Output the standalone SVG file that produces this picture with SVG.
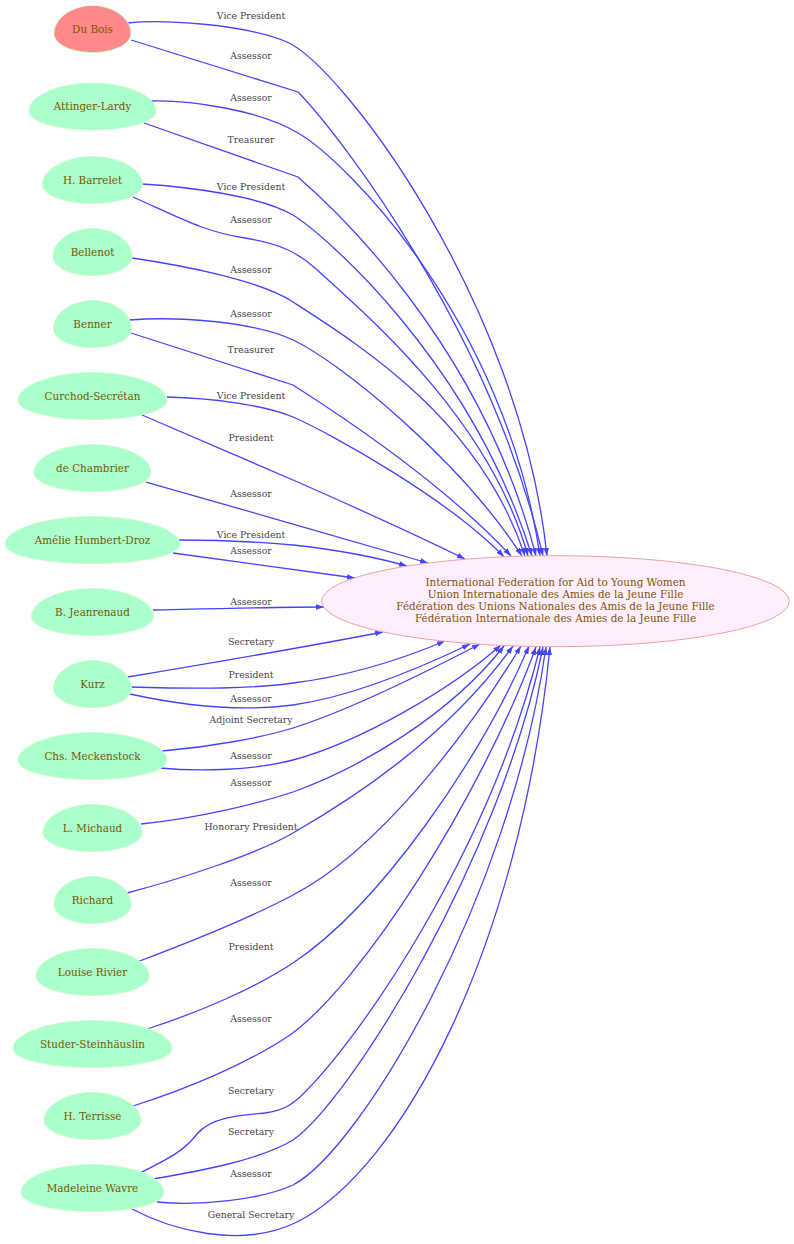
<svg xmlns="http://www.w3.org/2000/svg" xmlns:xlink="http://www.w3.org/1999/xlink" width="794" height="1244" viewBox="0 0 794 1244">
<defs>
<style>
.egg{fill:#aaffcc;stroke:#ccffcc;stroke-width:1}
.egg.red{fill:#ff8888}
.nt{font-family:"DejaVu Serif","Liberation Serif",serif;font-size:10.4px;fill:#805500;text-anchor:middle}
.e path{fill:none;stroke:#4444ff;stroke-width:1.3;marker-end:url(#ah)}
.e text{font-family:"DejaVu Serif","Liberation Serif",serif;font-size:9.3px;fill:#444444;text-anchor:middle}
.ct{font-family:"DejaVu Serif","Liberation Serif",serif;font-size:10.4px;fill:#805500;text-anchor:middle}
</style>
<path id="eggshape" vector-effect="non-scaling-stroke" d="M0,-1 C0.52,-1 1,-0.47 1,0.19 C1,0.64 0.56,1 0,1 C-0.56,1 -1,0.64 -1,0.19 C-1,-0.47 -0.52,-1 0,-1Z"/>
<marker id="ah" markerUnits="userSpaceOnUse" markerWidth="9" markerHeight="6" refX="8" refY="2.8" orient="auto"><path d="M0,0 L8,2.8 L0,5.6 Z" fill="#4444ff"/></marker>
</defs>
<rect width="794" height="1244" fill="#ffffff"/>
<g id="edges">
<g class="e"><path d="M128,23 C160,19 245,24 287,42 C340,65 520,300 547,556"/><text x="251" y="19">Vice President</text></g>
<g class="e"><path d="M131,40 L298,92 C340,135 490,330 543,556"/><text x="251" y="59">Assessor</text></g>
<g class="e"><path d="M151,101 C190,100 260,110 298,133 C345,160 505,320 540,556"/><text x="251" y="101">Assessor</text></g>
<g class="e"><path d="M144,123 L298,177 C330,205 480,340 536,556"/><text x="251" y="142.5">Treasurer</text></g>
<g class="e"><path d="M142,184 C190,187 260,196 293,215 C325,235 470,360 532,556"/><text x="251" y="190">Vice President</text></g>
<g class="e"><path d="M133,197 C180,218 205,232 245,238 C280,244 297,252 315,268 C370,318 490,420 528,556"/><text x="251" y="223">Assessor</text></g>
<g class="e"><path d="M132,258 C180,265 260,280 293,302 C360,345 480,420 525,556"/><text x="251" y="272.5">Assessor</text></g>
<g class="e"><path d="M129,320 C180,316 255,322 293,340 C340,362 460,460 522,556"/><text x="251" y="316.5">Assessor</text></g>
<g class="e"><path d="M131,333 L293,385 C340,415 440,480 511,556"/><text x="251" y="352.5">Treasurer</text></g>
<g class="e"><path d="M167,397 C210,398 265,405 293,417 C330,433 450,500 504,557"/><text x="251" y="398.5">Vice President</text></g>
<g class="e"><path d="M142,415 L293,480 C350,505 420,537 465,559"/><text x="251" y="440.5">President</text></g>
<g class="e"><path d="M146,482 L293,524 L428,563"/><text x="251" y="496.5">Assessor</text></g>
<g class="e"><path d="M178,540 C220,540 260,542 293,545 C330,549 375,557 407,566"/><text x="251" y="538">Vice President</text></g>
<g class="e"><path d="M173,553 L355,578"/><text x="251" y="554">Assessor</text></g>
<g class="e"><path d="M153,610 C200,609 280,607 324,607"/><text x="251" y="605">Assessor</text></g>
<g class="e"><path d="M128,677 C200,665 300,648 383,632"/><text x="251" y="645">Secretary</text></g>
<g class="e"><path d="M130,687 C200,689 250,689 293,683 C350,676 400,660 445,641"/><text x="251" y="678">President</text></g>
<g class="e"><path d="M130,694 C180,705 240,712 293,705 C350,697 420,668 470,644"/><text x="251" y="702">Assessor</text></g>
<g class="e"><path d="M162,751 C210,747 260,738 293,728 C350,710 430,670 480,644"/><text x="251" y="723">Adjoint Secretary</text></g>
<g class="e"><path d="M160,768 C200,772 255,770 293,760 C360,742 450,690 501,645"/><text x="251" y="759">Assessor</text></g>
<g class="e"><path d="M141,824 C200,818 260,803 293,792 C360,768 450,715 504,646"/><text x="251" y="786">Assessor</text></g>
<g class="e"><path d="M127,893 C180,879 255,855 293,833 C350,800 445,740 513,646"/><text x="251" y="830">Honorary President</text></g>
<g class="e"><path d="M137,962 C190,942 250,918 293,895 C380,850 470,730 521,646"/><text x="251" y="886">Assessor</text></g>
<g class="e"><path d="M147,1029 C200,1012 255,988 293,963 C380,905 480,760 529,646"/><text x="251" y="950">President</text></g>
<g class="e"><path d="M133,1106 C190,1088 250,1062 290,1035 C360,985 480,800 536,647"/><text x="251" y="1022">Assessor</text></g>
<g class="e"><path d="M140,1173 C170,1158 185,1150 197,1134 C212,1116 245,1115 265,1113 C285,1110 292,1104 300,1097 C360,1040 490,850 540,647"/><text x="251" y="1094">Secretary</text></g>
<g class="e"><path d="M153,1179 C200,1171 260,1160 293,1140 C350,1100 500,860 543,647"/><text x="251" y="1135">Secretary</text></g>
<g class="e"><path d="M157,1202 C200,1206 260,1200 293,1185 C360,1150 510,900 546,647"/><text x="251" y="1177">Assessor</text></g>
<g class="e"><path d="M132,1209 C170,1229 240,1250 297,1222 C400,1170 520,950 550,647"/><text x="251" y="1218">General Secretary</text></g>
</g>
<g id="center"><ellipse cx="555.5" cy="601.2" rx="233.8" ry="45.5" fill="#ffeeff" stroke="#f0a0a0" stroke-width="1"/>
<text class="ct" x="555.5" y="586">International Federation for Aid to Young Women</text>
<text class="ct" x="555.5" y="598">Union Internationale des Amies de la Jeune Fille</text>
<text class="ct" x="555.5" y="610">Fédération des Unions Nationales des Amis de la Jeune Fille</text>
<text class="ct" x="555.5" y="622">Fédération Internationale des Amies de la Jeune Fille</text></g>
<g id="n1"><use xlink:href="#eggshape" class="egg red" transform="translate(92.5,29) scale(38.5,23.5)"/><text class="nt" x="92.5" y="32.5">Du Bois</text></g>
<g id="n2"><use xlink:href="#eggshape" class="egg" transform="translate(92.5,106.5) scale(63.5,23.5)"/><text class="nt" x="92.5" y="110">Attinger-Lardy</text></g>
<g id="n3"><use xlink:href="#eggshape" class="egg" transform="translate(92.5,180) scale(50,23.5)"/><text class="nt" x="92.5" y="183.5">H. Barrelet</text></g>
<g id="n4"><use xlink:href="#eggshape" class="egg" transform="translate(92.5,252) scale(39.5,23.5)"/><text class="nt" x="92.5" y="255.5">Bellenot</text></g>
<g id="n5"><use xlink:href="#eggshape" class="egg" transform="translate(92.5,324) scale(39,23.5)"/><text class="nt" x="92.5" y="327.5">Benner</text></g>
<g id="n6"><use xlink:href="#eggshape" class="egg" transform="translate(92.5,396) scale(74.5,23.5)"/><text class="nt" x="92.5" y="399.5">Curchod-Secrétan</text></g>
<g id="n7"><use xlink:href="#eggshape" class="egg" transform="translate(92.5,468) scale(58.5,23.5)"/><text class="nt" x="92.5" y="471.5">de Chambrier</text></g>
<g id="n8"><use xlink:href="#eggshape" class="egg" transform="translate(92.5,540) scale(87.5,23.5)"/><text class="nt" x="92.5" y="543.5">Amélie Humbert-Droz</text></g>
<g id="n9"><use xlink:href="#eggshape" class="egg" transform="translate(92.5,612) scale(61,23.5)"/><text class="nt" x="92.5" y="615.5">B. Jeanrenaud</text></g>
<g id="n10"><use xlink:href="#eggshape" class="egg" transform="translate(92.5,684) scale(39,23.5)"/><text class="nt" x="92.5" y="687.5">Kurz</text></g>
<g id="n11"><use xlink:href="#eggshape" class="egg" transform="translate(92.5,756) scale(74.5,23.5)"/><text class="nt" x="92.5" y="759.5">Chs. Meckenstock</text></g>
<g id="n12"><use xlink:href="#eggshape" class="egg" transform="translate(92.5,828) scale(49.5,23.5)"/><text class="nt" x="92.5" y="831.5">L. Michaud</text></g>
<g id="n13"><use xlink:href="#eggshape" class="egg" transform="translate(92.5,900) scale(38.5,23.5)"/><text class="nt" x="92.5" y="903.5">Richard</text></g>
<g id="n14"><use xlink:href="#eggshape" class="egg" transform="translate(92.5,972) scale(56.5,23.5)"/><text class="nt" x="92.5" y="975.5">Louise Rivier</text></g>
<g id="n15"><use xlink:href="#eggshape" class="egg" transform="translate(92.5,1044) scale(79.5,23.5)"/><text class="nt" x="92.5" y="1047.5">Studer-Steinhäuslin</text></g>
<g id="n16"><use xlink:href="#eggshape" class="egg" transform="translate(92.5,1116) scale(48.5,23.5)"/><text class="nt" x="92.5" y="1119.5">H. Terrisse</text></g>
<g id="n17"><use xlink:href="#eggshape" class="egg" transform="translate(92.5,1188) scale(71.5,23.5)"/><text class="nt" x="92.5" y="1191.5">Madeleine Wavre</text></g>
</svg>
